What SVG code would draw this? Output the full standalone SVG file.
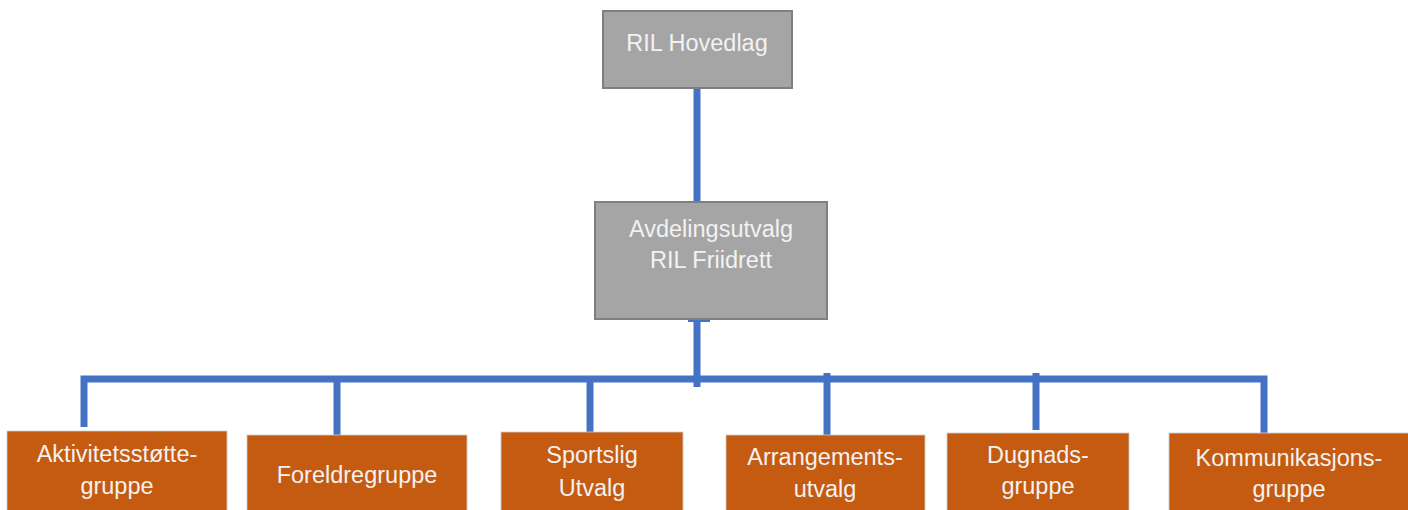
<svg xmlns="http://www.w3.org/2000/svg" width="1408" height="510" viewBox="0 0 1408 510">
<style>
.gray{fill:#a5a5a5;stroke:#7f7f7f;stroke-width:2}
.org{fill:#c55a11;stroke:#d0cece;stroke-width:0.8}
.t{font-family:"Liberation Sans",Arial,sans-serif;font-size:23.5px;fill:#f2f2f2;text-anchor:middle}
.c{stroke:#4472c4;stroke-width:7;fill:none}
</style>
<rect width="1408" height="510" fill="#ffffff"/>
<g id="connectors">
<line class="c" x1="697" y1="88" x2="697" y2="203"/>
<line class="c" x1="697" y1="319" x2="697" y2="387"/>
<rect x="688" y="318" width="22" height="4" fill="#4472c4"/>
<polyline class="c" points="84,427 84,379 1264,379 1264,437"/>
<line class="c" x1="337" y1="379" x2="337" y2="437"/>
<line class="c" x1="590" y1="379" x2="590" y2="437"/>
<line class="c" x1="827" y1="373" x2="827" y2="435"/>
<line class="c" x1="1036" y1="373" x2="1036" y2="430"/>
</g>
<g id="hovedlag">
<rect class="gray" x="603" y="11" width="189" height="77"/>
<text class="t" x="697" y="51">RIL Hovedlag</text>
</g>
<g id="avdelingsutvalg">
<rect class="gray" x="595" y="202" width="232" height="117"/>
<text class="t" x="711" y="237">Avdelingsutvalg</text>
<text class="t" x="711" y="268">RIL Friidrett</text>
</g>
<g id="aktivitetsstotte">
<rect class="org" x="7" y="431" width="220" height="85"/>
<text class="t" x="117" y="462">Aktivitetsstøtte-</text>
<text class="t" x="117" y="494">gruppe</text>
</g>
<g id="foreldregruppe">
<rect class="org" x="247" y="435" width="220" height="81"/>
<text class="t" x="357" y="483">Foreldregruppe</text>
</g>
<g id="sportslig">
<rect class="org" x="501" y="432" width="182" height="84"/>
<text class="t" x="592" y="463">Sportslig</text>
<text class="t" x="592" y="496">Utvalg</text>
</g>
<g id="arrangement">
<rect class="org" x="726" y="435" width="199" height="81"/>
<text class="t" x="825" y="465">Arrangements-</text>
<text class="t" x="825" y="497">utvalg</text>
</g>
<g id="dugnad">
<rect class="org" x="947" y="433" width="182" height="83"/>
<text class="t" x="1038" y="463">Dugnads-</text>
<text class="t" x="1038" y="494">gruppe</text>
</g>
<g id="kommunikasjon">
<rect class="org" x="1169" y="433" width="245" height="83"/>
<text class="t" x="1289" y="466">Kommunikasjons-</text>
<text class="t" x="1289" y="497">gruppe</text>
</g>
</svg>
